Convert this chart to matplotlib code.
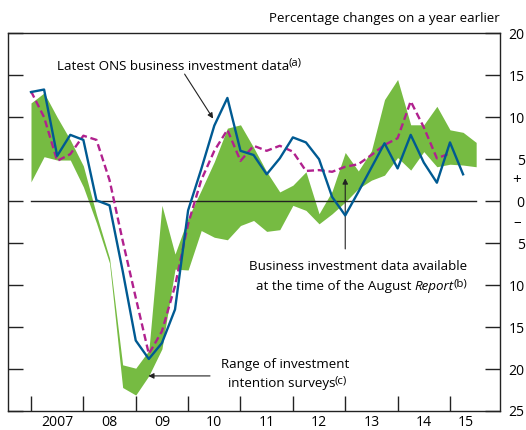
import numpy as np
import matplotlib
matplotlib.use("Agg")
import matplotlib.pyplot as plt

plt.rcParams['font.family'] = ['Open Sans', 'DejaVu Sans']

# quarterly data, first quarter plotted at 2007
start_year = 2007

# range of investment intention surveys (upper / lower edge), 2007 Q1 - 2015 Q3
survey_high = [11.7, 12.9, 10.0, 7.3, 4.2, -1.6, -6.8, -19.5, -19.9, -17.8,
               -0.5, -6.3, -2.0, 1.3, 4.7, 8.7, 9.1, 6.4, 3.5, 1.1,
               1.9, 3.5, -1.5, 1.2, 5.8, 3.6, 6.0, 12.1, 14.5, 9.1,
               9.1, 11.3, 8.5, 8.2, 7.0]
survey_low = [2.3, 5.3, 4.9, 4.9, 1.7, -2.6, -7.4, -22.2, -23.1, -20.8,
              -17.6, -8.1, -8.2, -3.5, -4.3, -4.6, -2.9, -2.3, -3.6, -3.4,
              -0.5, -1.1, -2.7, -1.5, -0.1, 1.5, 2.5, 3.1, 5.2, 3.7,
              5.9, 4.1, 4.4, 4.3, 4.1]

# latest ONS business investment, 2007 Q1 - 2015 Q2
ons_latest = [13.0, 13.3, 5.4, 7.9, 7.3, 0.1, -0.5, -8.3, -16.6, -18.8,
              -16.9, -12.9, -1.1, 3.8, 9.0, 12.3, 6.0, 5.5, 3.2, 5.1,
              7.6, 7.0, 5.0, 0.5, -1.7, 1.1, 4.0, 6.9, 3.9, 7.9,
              4.6, 2.2, 7.0, 3.2]

# data available at the time of the August Report, 2007 Q1 - 2015 Q1
ons_august = [13.1, 10.0, 4.8, 5.6, 7.8, 7.3, 2.5, -4.7, -11.5, -18.2,
              -15.5, -10.1, -2.7, 2.5, 6.0, 8.5, 4.8, 6.6, 6.0, 6.6,
              5.9, 3.6, 3.7, 3.5, 4.1, 4.4, 5.5, 6.7, 7.5, 11.9,
              8.8, 5.1, 5.7]

year_labels = ['2007', '08', '09', '10', '11', '12', '13', '14', '15']
y_ticks = [-25, -20, -15, -10, -5, 0, 5, 10, 15, 20]


def quarters(values):
    return start_year + 0.25 * np.arange(len(values))


green = '#76bb42'
blue = '#005a92'
magenta = '#b1218e'
ink = '#222222'

fig = plt.figure(figsize=(5.26, 4.30), dpi=100)
ax = fig.add_axes([8 / 526, 1 - 411 / 430, 492 / 526, 377.7 / 430])

xg = quarters(survey_high)
ax.fill_between(xg, survey_low, survey_high, color=green, linewidth=0, zorder=1)
ax.plot([xg[0], xg[-1]], [0, 0], color=ink, lw=1.0, zorder=2)
ax.plot(quarters(ons_august), ons_august, color=magenta, lw=1.7,
        dashes=(3, 1.6), zorder=3)
ax.plot(quarters(ons_latest), ons_latest, color=blue, lw=1.7, zorder=4)

ax.set_xlim(2006.561, 2015.955)
ax.set_ylim(-25, 20)

# x axis: year ticks, labels between them
year_ticks = np.arange(start_year, start_year + len(year_labels))
ax.set_xticks(year_ticks)
ax.set_xticklabels([])
label_pos = list(year_ticks[:-1] + 0.5) + [year_ticks[-1] + 0.30]
ax.set_xticks(label_pos, minor=True)
ax.set_xticklabels(year_labels, minor=True)
ax.tick_params(axis='x', which='major', direction='in', length=10.8, width=1,
               bottom=True, top=False, color=ink)
ax.tick_params(axis='x', which='minor', length=0, pad=2.6, labelsize=10.1)

# y axis: ticks on both sides, labels on the right
ax.set_yticks(y_ticks)
ax.set_yticklabels([str(abs(v)) for v in y_ticks])
ax.tick_params(axis='y', direction='in', length=10.8, width=1, left=True,
               right=True, labelleft=False, labelright=True, pad=17.8,
               labelsize=10.1, color=ink)
for lab in ax.get_yticklabels():
    lab.set_horizontalalignment('right')
    lab.set_verticalalignment('center_baseline')

for sp in ax.spines.values():
    sp.set_linewidth(1.0)
    sp.set_color(ink)

fig.text(516.7 / 526, 1 - 180.7 / 430, '+', ha='center', va='center', fontsize=11)
fig.text(517 / 526, 1 - 222.7 / 430, '\u2013', ha='center', va='center', fontsize=11)
fig.text(499.5 / 526, 1 - 18.5 / 430, 'Percentage changes on a year earlier',
         ha='right', va='center', fontsize=9.6)


def add_note(x, y, text, italic=None, sup=None):
    t = ax.text(x, y, text, ha='left', va='center', fontsize=9.6)
    if italic:
        t = ax.annotate(italic, xy=(1, 0), xycoords=t, xytext=(2.7, 0),
                        textcoords='offset points', ha='left', va='bottom',
                        fontsize=9.6, fontstyle='italic')
    if sup:
        ax.annotate(sup, xy=(1, 0), xycoords=t, xytext=(-0.6, 2.8),
                    textcoords='offset points', ha='left', va='bottom',
                    fontsize=8.2)
    return t


arrow = dict(arrowstyle='-|>', color=ink, lw=0.8, mutation_scale=8,
             shrinkA=0, shrinkB=0)

# annotations
add_note(2007.496, 16.1, 'Latest ONS business investment data', sup='(a)')
ax.annotate('', xy=(2010.477, 9.84), xytext=(2009.933, 15.14), arrowprops=arrow)

ax.annotate('', xy=(2013.0, 2.71), xytext=(2013.0, -5.69), arrowprops=arrow)
add_note(2011.162, -7.77, 'Business investment data available')
add_note(2011.290, -10.19, 'at the time of the August', italic='Report',
         sup='(b)')

ax.annotate('', xy=(2009.240, -20.82), xytext=(2010.418, -20.82),
            arrowprops=arrow)
add_note(2010.637, -19.43, 'Range of investment')
add_note(2010.765, -21.74, 'intention surveys', sup='(c)')

fig.savefig('out.png', dpi=100)
